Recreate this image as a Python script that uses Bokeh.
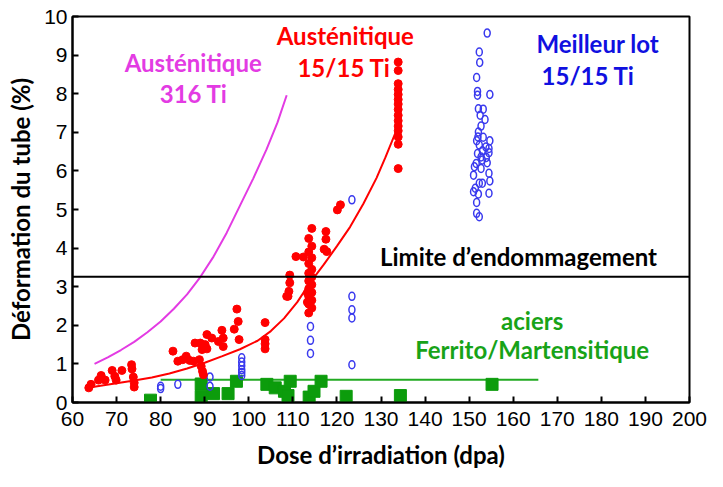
from bokeh.plotting import figure
from bokeh.models import Range1d, FixedTicker, Span
from bokeh.core.properties import value
from bokeh.embed import file_html
from bokeh.resources import INLINE

# ---------------- data ----------------
x_ticks = list(range(60, 201, 10))
y_ticks = list(range(0, 11))

limit_y = 3.26

# Austénitique 15/15 Ti (red points)
red_x = [63.7, 64.2, 65.9, 66.5, 67.4, 69.0, 69.6, 69.9, 71.2, 73.4, 73.5, 73.8, 74.0, 74.0,
         82.8, 83.9, 85.0, 85.8, 86.6, 87.5, 87.8, 89.0, 89.4, 90.1, 90.5, 90.5, 91.6, 88.8,
         89.2, 89.5, 89.7, 93.1, 94.2, 93.9, 94.2, 96.7, 97.3, 97.6, 97.8,
         103.7, 103.7, 103.7, 103.7,
         108.9, 109.1, 109.3, 109.3, 108.6, 110.7, 112.4,
         113.6, 114.3, 113.6, 114.3, 113.6, 114.3, 113.6, 114.3, 113.6, 114.3, 113.6, 114.3,
         113.6, 114.3, 113.6, 114.3, 113.6, 114.3, 113.3, 113.3,
         117.5, 117.5, 117.1, 117.7, 120.1, 120.8,
         133.9, 133.9, 133.9, 133.9, 133.9, 133.9, 133.9, 133.9, 133.9, 133.9, 133.9, 133.9,
         133.9, 133.9, 133.9]
red_y = [0.38, 0.47, 0.58, 0.70, 0.58, 0.83, 0.68, 0.58, 0.83, 0.98, 0.87, 0.66, 0.51, 0.40,
         1.33, 1.07, 1.11, 1.20, 1.09, 1.07, 1.54, 1.54, 1.37, 1.50, 1.76, 1.39, 1.67, 1.11,
         0.94, 0.81, 0.72, 1.58, 1.67, 1.87, 1.45, 1.90, 2.42, 2.10, 1.63,
         2.07, 1.63, 1.52, 1.39,
         2.75, 2.88, 3.10, 3.30, 2.75, 3.78, 3.77,
         2.32, 2.45, 2.55, 2.65, 2.75, 2.85, 2.95, 3.05, 3.15, 3.25, 3.35, 3.45,
         3.60, 3.75, 3.90, 4.05, 4.25, 4.51, 2.84, 2.60,
         4.43, 4.23, 3.97, 3.91, 4.99, 5.12,
         8.82, 8.60, 8.26, 8.11, 7.98, 7.85, 7.73, 7.59, 7.44, 7.30, 7.16, 7.04,
         6.88, 6.69, 6.06]

# trend curve of the 15/15 Ti
red_curve_x = [63.5, 66, 70, 74, 78, 82, 86, 90, 94, 98, 102, 105, 108, 111, 114,
               117, 120, 123, 126, 129, 131, 133.5]
red_curve_y = [0.38, 0.43, 0.50, 0.57, 0.65, 0.75, 0.88, 1.03, 1.20, 1.38, 1.60, 1.85,
               2.18, 2.60, 3.12, 3.57, 4.05, 4.55, 5.15, 5.82, 6.35, 7.05]

# trend curve of the 316 Ti
mag_curve_x = [65, 68, 71, 74, 77, 80, 83, 86, 89, 92, 95, 98, 101, 104, 106.5, 108.6]
mag_curve_y = [1.0, 1.17, 1.36, 1.57, 1.82, 2.10, 2.43, 2.80, 3.25, 3.78, 4.40, 5.10,
               5.80, 6.55, 7.25, 7.96]

# Meilleur lot 15/15 Ti (blue open circles)
blue_x = [154.1, 152.3, 152.4, 151.7, 151.9, 151.9, 154.7, 152.1, 153.2, 152.5, 153.6, 152.7,
          152.1, 152.0, 153.2, 154.7, 151.7, 152.3, 153.8, 154.5, 153.0, 151.9, 154.5, 152.7,
          153.9, 151.6, 153.0, 154.1, 151.2, 152.7, 151.0, 154.5, 154.7, 152.3, 153.0, 151.4,
          151.0, 152.1, 154.5, 151.7, 151.7, 152.3,
          80.0, 80.0, 83.9, 91.2, 91.2, 98.4, 98.4, 98.4, 98.4, 98.4, 98.4,
          114.0, 114.0, 114.0, 123.4, 123.4, 123.4, 123.4, 123.4]
blue_y = [9.57, 9.08, 8.81, 8.42, 8.06, 7.96, 7.98, 7.61, 7.60, 7.44, 7.33, 7.16,
          7.01, 6.88, 6.87, 6.78, 6.78, 6.67, 6.62, 6.58, 6.52, 6.45, 6.47, 6.36,
          6.35, 6.19, 6.28, 6.21, 6.11, 6.06, 5.89, 5.94, 5.74, 5.68, 5.68, 5.55,
          5.46, 5.40, 5.42, 5.18, 4.90, 4.81,
          0.42, 0.36, 0.47, 0.66, 0.42, 1.16, 1.05, 0.95, 0.85, 0.78, 0.70,
          1.97, 1.61, 1.27, 5.25, 2.75, 2.40, 2.19, 0.98]

# aciers Ferrito/Martensitiques (green squares) and their level
green_x = [77.7, 89.2, 89.2, 92.0, 95.3, 97.2, 104.1, 106.0, 108.1, 108.9, 109.4, 113.7,
           114.8, 116.4, 122.1, 134.4, 155.2]
green_y = [0.06, 0.48, 0.16, 0.23, 0.23, 0.55, 0.47, 0.38, 0.29, 0.18, 0.55, 0.14,
           0.29, 0.55, 0.16, 0.18, 0.47]
green_line_x = [80.0, 165.7]
green_line_y = [0.59, 0.59]

# texts
mag_text = ["Austénitique", "316 Ti"]
mag_text_x = [87.4, 87.5]
mag_text_y = [8.81, 8.00]
red_text = ["Austénitique", "15/15 Ti"]
red_text_x = [121.9, 121.6]
red_text_y = [9.51, 8.67]
blue_text = ["Meilleur lot", "15/15 Ti"]
blue_text_x = [179.2, 177.0]
blue_text_y = [9.30, 8.47]
green_text = ["aciers", "Ferrito/Martensitique"]
green_text_x = [164.3, 164.3]
green_text_y = [2.13, 1.37]
limit_text = ["Limite d’endommagement"]
limit_text_x = [161.2]
limit_text_y = [3.77]

x_title = "Dose d’irradiation (dpa)"
y_title = "Déformation du tube (%)"

RED = "#ff0000"
MAG = "#e33be3"
BLUE = "#3a3aee"
BLUE_T = "#1010e0"
GREEN = "#0c9c0c"
GREEN_L = "#22aa22"
GREEN_T = "#18a318"

TITLE_FONT = "Lato"
TXT_SIZE = "24px"

p = figure(width=707, height=471, output_backend="svg", toolbar_location=None,
           x_range=Range1d(60, 200), y_range=Range1d(0, 10),
           min_border_left=72, min_border_right=18, min_border_top=16, min_border_bottom=68)
p.background_fill_color = "white"
p.border_fill_color = "white"
p.outline_line_color = "black"
p.outline_line_width = 2
p.xgrid.visible = False
p.ygrid.visible = False

for ax in (p.xaxis[0], p.yaxis[0]):
    ax.axis_line_width = 2
    ax.axis_line_color = "black"
    ax.major_tick_in = 6
    ax.major_tick_out = 0
    ax.major_tick_line_width = 2
    ax.minor_tick_line_color = None
    ax.major_label_text_font = "Liberation Sans"
    ax.major_label_text_font_size = "21px"
    ax.major_label_text_color = "black"
    ax.axis_label_text_font = TITLE_FONT
    ax.axis_label_text_font_style = "bold"
    ax.axis_label_text_font_size = TXT_SIZE
    ax.axis_label_text_color = "black"

p.xaxis.ticker = FixedTicker(ticks=x_ticks)
p.yaxis.ticker = FixedTicker(ticks=y_ticks)
p.xaxis.major_label_standoff = 9
p.yaxis.major_label_standoff = 5

p.yaxis.axis_label = y_title
p.yaxis.axis_label_standoff = 6
p.xaxis.axis_label = x_title
p.xaxis.axis_label_standoff = 11

p.add_layout(Span(location=limit_y, dimension="width", line_color="black", line_width=2))

p.line(mag_curve_x, mag_curve_y, line_color=MAG, line_width=2)
p.line(red_curve_x, red_curve_y, line_color=RED, line_width=2)
p.line(green_line_x, green_line_y, line_color=GREEN_L, line_width=2)

p.scatter(green_x, green_y, marker="square", size=12, fill_color=GREEN, line_color=GREEN)
p.ellipse(blue_x, blue_y, width=6, height=8, width_units="screen", height_units="screen",
          fill_color=None, line_color=BLUE, line_width=1.5)
p.scatter(red_x, red_y, marker="circle", size=8, fill_color=RED, line_color=RED)

for xs, ys, ts, col in [(mag_text_x, mag_text_y, mag_text, MAG),
                        (red_text_x, red_text_y, red_text, RED),
                        (blue_text_x, blue_text_y, blue_text, BLUE_T),
                        (green_text_x, green_text_y, green_text, GREEN_T),
                        (limit_text_x, limit_text_y, limit_text, "black")]:
    p.text(x=xs, y=ys, text=ts, text_font=value(TITLE_FONT), text_font_style="bold",
           text_font_size=TXT_SIZE, text_color=col, text_align="center",
           text_baseline="alphabetic")

open("out.html", "w").write(file_html(p, INLINE))
